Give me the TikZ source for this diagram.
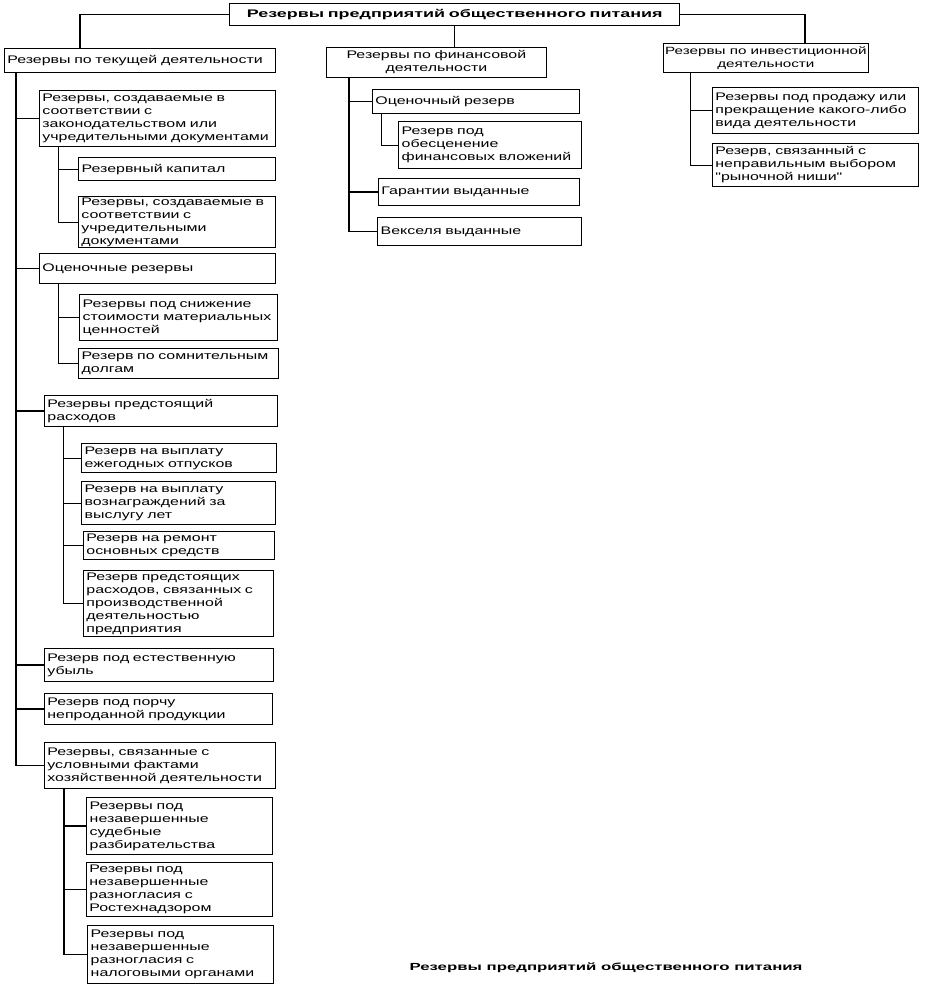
\documentclass[tikz,border=0pt]{standalone}
\usepackage{fontspec}
\newfontfamily\rf[FakeStretch=1.45]{Liberation Sans}
\newfontfamily\rfb[FakeStretch=1.63]{Liberation Sans}
\tikzset{
  box/.style={draw, line width=0.8pt, inner xsep=3pt, inner ysep=1pt, align=left,
    font=\rf\fontsize{11}{13}\selectfont},
  tbox/.style={box, line width=1.4pt},
  conn/.style={draw, line width=0.8pt},
  tconn/.style={draw, line width=1.5pt},
}
\newcommand\bx[7][]{\node[box,anchor=north west,minimum height=#6pt,text width=\dimexpr#5pt-6pt\relax,#1] (#2) at (#3,#4) {#7};}
\begin{document}
\begin{tikzpicture}[x=1pt,y=-1pt]
\useasboundingbox (0,0) rectangle (931,1002);
% top
\bx[tbox,align=center,font=\rfb\bfseries\fontsize{11}{13}\selectfont]{T}{229}{3}{450}{22}{Резервы предприятий общественного питания}
\bx{L}{4}{48}{271}{24}{Резервы по текущей деятельности}
\bx[align=center]{M}{326}{47}{220}{30}{Резервы по финансовой\\деятельности}
\node[box,align=center,anchor=north west,minimum height=29pt,minimum width=205pt,inner xsep=0pt,
  font=\rf\fontsize{10.5}{12.5}\selectfont] (R) at (663,43) {Резервы по инвестиционной\\деятельности};
% left column
\bx{A}{39}{90}{236}{56}{Резервы, создаваемые в\\соответствии с\\законодательством или\\учредительными документами}
\bx[tbox]{A1}{78}{157}{197}{23}{Резервный капитал}
\bx{A2}{78}{196}{197}{51}{Резервы, создаваемые в\\соответствии с\\учредительными\\документами}
\bx{B}{39}{253}{236}{30}{Оценочные резервы}
\bx[tbox]{B1}{79}{294}{198}{46}{Резервы под снижение\\стоимости материальных\\ценностей}
\bx[tbox]{B2}{78}{348}{200}{30}{Резерв по сомнительным\\долгам}
\bx{C}{44}{395}{233}{31}{Резервы предстоящий\\расходов}
\bx[tbox]{C1}{81}{443}{195}{29}{Резерв на выплату\\ежегодных отпусков}
\bx[tbox]{C2}{81}{481}{194}{43}{Резерв на выплату\\вознаграждений за\\выслугу лет}
\bx{C3}{83}{531}{191}{28}{Резерв на ремонт\\основных средств}
\bx{C4}{83}{570}{190}{66}{Резерв предстоящих\\расходов, связанных с\\производственной\\деятельностью\\предприятия}
\bx{D}{44}{648}{229}{33}{Резерв под естественную\\убыль}
\bx{E}{44}{693}{228}{31}{Резерв под порчу\\непроданной продукции}
\bx{F}{44}{742}{231}{46}{Резервы, связанные с\\условными фактами\\хозяйственной деятельности}
\bx[tbox]{F1}{86}{797}{186}{57}{Резервы под\\незавершенные\\судебные\\разбирательства}
\bx{F2}{86}{862}{186}{54}{Резервы под\\незавершенные\\разногласия с\\Ростехнадзором}
\bx[tbox]{F3}{87}{925}{186}{58}{Резервы под\\незавершенные\\разногласия с\\налоговыми органами}
% middle column
\bx{M1}{372}{89}{207}{24}{Оценочный резерв}
\bx[tbox]{M1a}{398}{121}{183}{47}{Резерв под\\обесценение\\финансовых вложений}
\bx{M2}{378}{178}{201}{27}{Гарантии выданные}
\bx[tbox]{M3}{377}{217}{204}{28}{Векселя выданные}
% right column
\bx{R1}{712}{87}{206}{46}{Резервы под продажу или\\прекращение какого-либо\\вида деятельности}
\bx{R2}{712}{143}{206}{43}{Резерв, связанный с\\неправильным выбором\\"рыночной ниши"}
% caption
\node[font=\rfb\bfseries\fontsize{10.3}{12}\selectfont] (cap) at (606,968) {Резервы предприятий общественного питания};
% top connectors
\draw[tconn] (T.west) -| ([xshift=76]L.north west);
\draw[tconn] (T.east) -| ([xshift=142]R.north west);
\draw[conn] (T.south) -- (T.south |- M.north);
% left trunk
\foreach \c in {A,B,C,D,E,F} \draw[tconn] ([xshift=12]L.south west) |- (\c.west);
\foreach \c in {A1,A2} \draw[conn] ([xshift=19]A.south west) |- (\c.west);
\foreach \c in {B1,B2} \draw[conn] ([xshift=19]B.south west) |- (\c.west);
\foreach \c in {C1,C2,C3,C4} \draw[conn] ([xshift=19]C.south west) |- (\c.west);
\foreach \c in {F1,F2,F3} \draw[tconn] ([xshift=20]F.south west) |- (\c.west);
% middle
\foreach \c in {M1,M2,M3} \draw[tconn] ([xshift=23]M.south west) |- (\c.west);
\draw[conn] ([xshift=9]M1.south west) |- (M1a.west);
% right
\foreach \c in {R1,R2} \draw[conn] ([xshift=27]R.south west) |- (\c.west);
\end{tikzpicture}
\end{document}
